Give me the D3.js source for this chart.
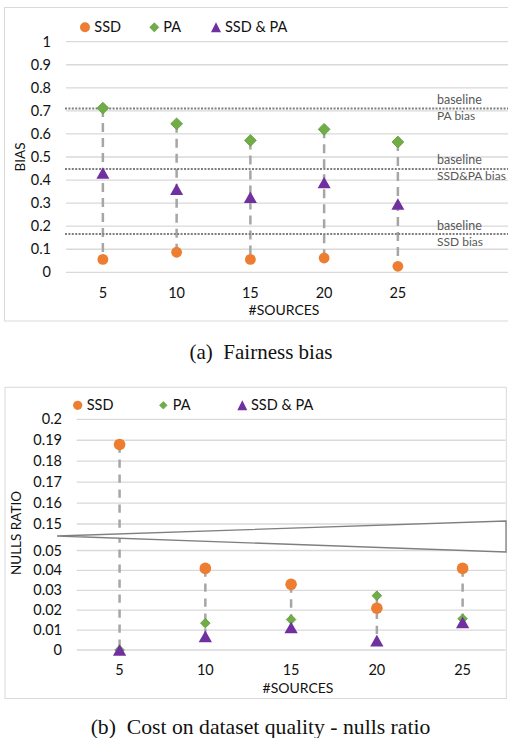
<!DOCTYPE html>
<html>
<head>
<meta charset="utf-8">
<script src="https://d3js.org/d3.v7.min.js"></script>
<style>
  body { margin: 0; background: #fff; }
  text { font-family: Lato, "Open Sans", sans-serif; }
</style>
</head>
<body>
<script>
// x categories, shared by both charts
var sources = ["5", "10", "15", "20", "25"];

// (a) fairness bias
var biasSSD  = [0.056, 0.087, 0.056, 0.062, 0.026];
var biasPA   = [0.712, 0.644, 0.572, 0.620, 0.565];
var biasBoth = [0.431, 0.360, 0.325, 0.389, 0.296];
var biasTicks = [0, 0.1, 0.2, 0.3, 0.4, 0.5, 0.6, 0.7, 0.8, 0.9, 1];
var baselineVals  = [0.710, 0.448, 0.166];
var baselineNames = ["PA bias", "SSD&PA bias", "SSD bias"];

// (b) nulls ratio (axis broken between 0.05 and 0.15)
var nullSSD  = [0.188, 0.041, 0.033, 0.021, 0.041];
var nullPA   = [0.000, 0.0135, 0.0153, 0.0273, 0.0157];
var nullBoth = [0.000, 0.0068, 0.0113, 0.0047, 0.0139];
var nullTicks = [0, 0.01, 0.02, 0.03, 0.04, 0.05, 0.15, 0.16, 0.17, 0.18, 0.19, 0.2];

var seriesNames = ["SSD", "PA", "SSD & PA"];

var orange = "#ED7D31", green = "#70AD47", purple = "#7030A0";
var gridCol = "#d9d9d9";

var svg = d3.select("body").append("svg")
    .attr("width", 508)
    .attr("height", 738);

function fmt(v) { return String(+v.toFixed(2)); }

function diamond(s) {
  return "M0," + (-s) + "L" + s + ",0L0," + s + "L" + (-s) + ",0Z";
}
function triangle(w, h) {
  return "M0," + (-h / 2) + "L" + (w / 2) + "," + (h / 2) + "L" + (-w / 2) + "," + (h / 2) + "Z";
}

function panel(o) {
  var g = svg.append("g");

  // chart area frame
  g.append("rect")
      .attr("x", o.box[0]).attr("y", o.box[1])
      .attr("width", o.box[2] - o.box[0]).attr("height", o.box[3] - o.box[1])
      .attr("fill", "#fff").attr("stroke", gridCol).attr("stroke-width", 1);

  var x = d3.scaleBand().domain(sources).range(o.xRange).paddingInner(0).paddingOuter(0);
  var cx = function(i) { return x(sources[i]) + x.bandwidth() / 2; };
  var y = o.y;

  // gridlines
  g.selectAll(".grid").data(o.ticks).enter().append("line")
      .attr("x1", o.xRange[0]).attr("x2", o.gridEnd)
      .attr("y1", function(d) { return y(d); }).attr("y2", function(d) { return y(d); })
      .attr("stroke", gridCol).attr("stroke-width", 1.3);

  // y tick labels
  g.selectAll(".ytick").data(o.ticks).enter().append("text")
      .attr("x", o.tickRight).attr("y", function(d) { return y(d) + 5; })
      .attr("text-anchor", "end")
      .style("font-size", "14.5px").attr("fill", "#111")
      .text(fmt);

  // x tick labels
  g.selectAll(".xtick").data(sources).enter().append("text")
      .attr("x", function(d, i) { return cx(i); }).attr("y", o.xTickY)
      .attr("text-anchor", "middle")
      .style("font-size", "14.5px").attr("fill", "#111")
      .text(function(d) { return d; });

  // high-low lines
  g.selectAll(".hl").data(sources).enter().append("line")
      .attr("x1", function(d, i) { return cx(i); }).attr("x2", function(d, i) { return cx(i); })
      .attr("y1", function(d, i) { return y(Math.max(o.s1[i], o.s2[i], o.s3[i])); })
      .attr("y2", function(d, i) { return y(Math.min(o.s1[i], o.s2[i], o.s3[i])); })
      .attr("stroke", "#a6a6a6").attr("stroke-width", 2.5)
      .attr("stroke-dasharray", o.dash);

  if (o.after) o.after(g, x, y);

  // markers
  g.selectAll(".ssd").data(o.s1).enter().append("circle")
      .attr("cx", function(d, i) { return cx(i); }).attr("cy", function(d) { return y(d); })
      .attr("r", o.ms.c).attr("fill", orange);
  g.selectAll(".pa").data(o.s2).enter().append("path")
      .attr("transform", function(d, i) { return "translate(" + cx(i) + "," + y(d) + ")"; })
      .attr("d", diamond(o.ms.d)).attr("fill", green).attr("stroke", "#5e9a3a").attr("stroke-width", 0.8);
  g.selectAll(".both").data(o.s3).enter().append("path")
      .attr("transform", function(d, i) { return "translate(" + cx(i) + "," + y(d) + ")"; })
      .attr("d", triangle(o.ms.tw, o.ms.th)).attr("fill", purple);

  // legend
  var L = o.legend;
  g.append("circle").attr("cx", L.m[0]).attr("cy", L.y).attr("r", L.c).attr("fill", orange);
  g.append("path").attr("transform", "translate(" + L.m[1] + "," + L.y + ")")
      .attr("d", diamond(L.d)).attr("fill", green).attr("stroke", "#5e9a3a").attr("stroke-width", 0.6);
  g.append("path").attr("transform", "translate(" + L.m[2] + "," + L.y + ")")
      .attr("d", triangle(10, 10)).attr("fill", purple);
  seriesNames.forEach(function(n, i) {
    g.append("text").attr("x", L.t[i]).attr("y", L.y + 5)
        .style("font-size", "14.5px").attr("fill", "#111").text(n);
  });

  // axis titles
  g.append("text")
      .attr("transform", "translate(" + o.yTitle[0] + "," + o.yTitle[1] + ")rotate(-90)")
      .attr("text-anchor", "middle").style("font-size", "13.5px").attr("fill", "#111")
      .text(o.yLabel);
  g.append("text")
      .attr("x", o.xTitle[0]).attr("y", o.xTitle[1])
      .attr("text-anchor", "middle").style("font-size", "14px").attr("fill", "#111")
      .text("#SOURCES");

  // caption
  g.append("text")
      .attr("x", o.cap[0]).attr("y", o.cap[1])
      .attr("text-anchor", "middle")
      .style("font-family", "'Liberation Serif', 'DejaVu Serif', serif")
      .style("font-size", o.capSize).style("white-space", "pre").attr("fill", "#111")
      .text(o.caption);
}

// (a) Fairness bias
panel({
  box: [4.5, 7.5, 512, 321],
  xRange: [66, 434.75], gridEnd: 508,
  y: d3.scaleLinear().domain([0, 1]).range([272.3, 41.7]),
  ticks: biasTicks, tickRight: 51, xTickY: 298,
  s1: biasSSD, s2: biasPA, s3: biasBoth,
  dash: "9,6",
  ms: { c: 5.4, d: 5.9, tw: 13, th: 11.5 },
  legend: { y: 27.3, m: [85, 154.3, 216], t: [94.3, 163.3, 225], c: 5, d: 4.6 },
  yLabel: "BIAS", yTitle: [24.5, 157],
  xTitle: [284, 315],
  cap: [261, 359], capSize: "21px", caption: "(a)  Fairness bias",
  after: function(g, x, y) {
    g.selectAll(".base").data(baselineVals).enter().append("line")
        .attr("x1", 65).attr("x2", 508)
        .attr("y1", function(d) { return y(d); }).attr("y2", function(d) { return y(d); })
        .attr("stroke", "#7f7f7f").attr("stroke-width", 2).attr("stroke-dasharray", "2,1.4");
    g.selectAll(".baseTop").data(baselineVals).enter().append("text")
        .attr("x", 437).attr("y", function(d) { return y(d) - 4.5; })
        .style("font-size", "12.5px").attr("fill", "#595959").text("baseline");
    g.selectAll(".baseBot").data(baselineVals).enter().append("text")
        .attr("x", 437).attr("y", function(d) { return y(d) + 11.5; })
        .style("font-size", "12px").attr("fill", "#595959")
        .text(function(d, i) { return baselineNames[i]; });
  }
});

// (b) Cost on dataset quality - nulls ratio
panel({
  box: [5, 387.3, 506.3, 698.5],
  xRange: [76.7, 505.5], gridEnd: 505.5,
  y: d3.scaleLinear().domain([0, 0.05, 0.15, 0.2]).range([650, 550.5, 524, 419.3]),
  ticks: nullTicks, tickRight: 62, xTickY: 675,
  s1: nullSSD, s2: nullPA, s3: nullBoth,
  dash: "8.3,6.7",
  ms: { c: 5.8, d: 4.8, tw: 13.3, th: 11.7 },
  legend: { y: 405.3, m: [77.7, 163.3, 242.3], t: [86.7, 172.7, 251], c: 4.6, d: 3.8 },
  yLabel: "NULLS RATIO", yTitle: [21, 533],
  xTitle: [298, 693],
  cap: [260.5, 733.5], capSize: "21.7px", caption: "(b)  Cost on dataset quality - nulls ratio",
  after: function(g) {
    // axis break wedge
    g.append("path")
        .attr("d", "M57,536L506,521L506,552Z")
        .attr("fill", "#fff").attr("stroke", "#7f7f7f").attr("stroke-width", 1.3);
  }
});
</script>
</body>
</html>
